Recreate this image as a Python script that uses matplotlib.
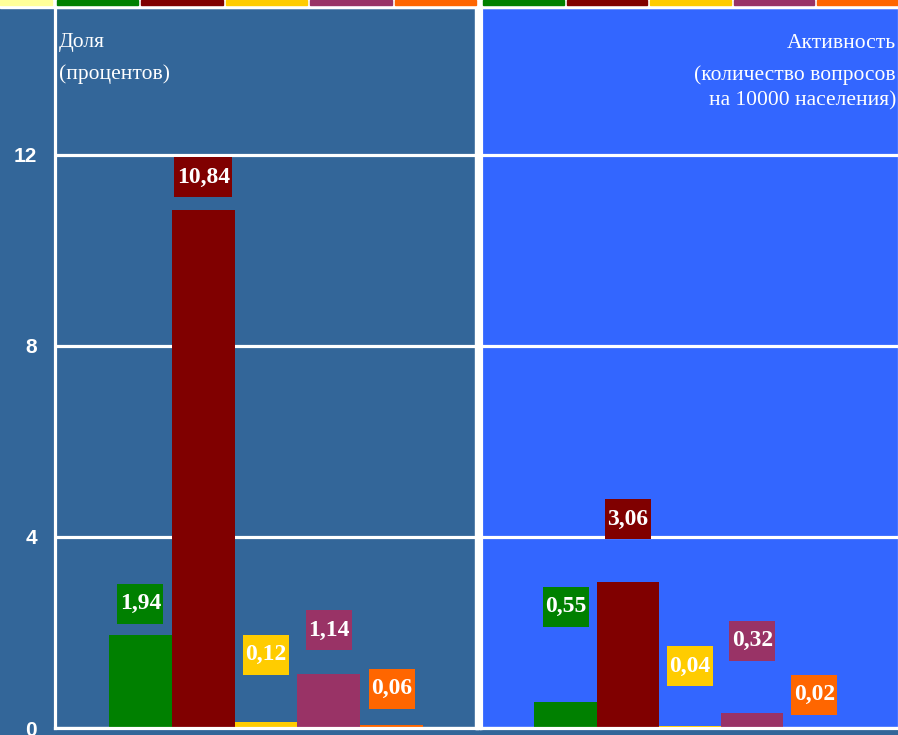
import matplotlib
matplotlib.use("Agg")
import matplotlib.pyplot as plt
from matplotlib.patches import Rectangle

# Data
share = [1.94, 10.84, 0.12, 1.14, 0.06]        # доля, %
activity = [0.55, 3.06, 0.04, 0.32, 0.02]      # вопросов на 10000 населения
bar_colors = ["#008000", "#800000", "#FFCC00", "#993366", "#FF6600"]
yticks = [0, 4, 8, 12]

# Label box heights (in data units)
share_label_y = [2.60, 11.53, 1.53, 2.05, 0.82]
activity_label_y = [2.54, 4.37, 1.29, 1.83, 0.70]

W, H = 898, 735
bg_left = "#336699"
bg_right = "#3366FF"
serif = "Liberation Serif"


def fx(px):
    return px / W


def fy(py):
    return 1 - py / H


fig = plt.figure(figsize=(W / 100, H / 100), dpi=100)
fig.patch.set_facecolor(bg_left)

ax1 = fig.add_axes([fx(55), fy(728), fx(477 - 55), (728 - 7) / H])
ax2 = fig.add_axes([fx(481), fy(728), fx(899 - 481), (728 - 7) / H])

XLIM = (-1.36, 5.36)
YLIM = (0, 15.09)


def draw_panel(ax, values, label_y, bg, width_px):
    ax.set_facecolor(bg)
    x = list(range(len(values)))
    ax.bar(x, values, width=1.0, color=bar_colors, edgecolor="none", zorder=2)
    # pixel -> data unit factors for the label boxes
    ux = (XLIM[1] - XLIM[0]) / width_px
    uy = (YLIM[1] - YLIM[0]) / 721
    for i, v in enumerate(values):
        s = f"{v:.2f}".replace(".", ",")
        bw = (12 * len(s) - 2) * ux
        bh = 40 * uy
        ax.add_patch(Rectangle((i - bw / 2, label_y[i] - bh / 2), bw, bh,
                               facecolor=bar_colors[i], edgecolor="none", zorder=3))
        ax.text(i, label_y[i], s, ha="center", va="center", color="white",
                fontsize=17, fontweight="bold", family=serif, zorder=4)
    ax.set_xlim(*XLIM)
    ax.set_ylim(*YLIM)
    ax.set_yticks(yticks)
    ax.set_xticks([])
    ax.yaxis.grid(True, color="white", linewidth=2.3)
    ax.set_axisbelow(True)
    for s in ax.spines.values():
        s.set_color("white")
        s.set_linewidth(2.3)


draw_panel(ax1, share, share_label_y, bg_left, 422)
draw_panel(ax2, activity, activity_label_y, bg_right, 418)

ax1.tick_params(axis="y", length=0, pad=13, labelcolor="white", labelsize=15)
for lab in ax1.get_yticklabels():
    lab.set_fontweight("bold")
    lab.set_family("Liberation Sans")
ax2.tick_params(axis="y", left=False, labelleft=False)

# Panel captions
cap = dict(color="white", fontsize=15.5, family=serif, va="center")
ax1.text(4 / 422, 1 - 36 / 721, "Доля", transform=ax1.transAxes, ha="left", **cap)
ax1.text(4 / 422, 1 - 67 / 721, "(процентов)", transform=ax1.transAxes, ha="left", **cap)
ax2.text(1 - 3 / 418, 1 - 36 / 721, "Активность", transform=ax2.transAxes,
         ha="right", **cap)
ax2.text(1 - 3 / 418, 1 - 68 / 721, "(количество вопросов", transform=ax2.transAxes,
         ha="right", **cap)
ax2.text(1 - 3 / 418, 1 - 94 / 721, "на 10000 населения)", transform=ax2.transAxes,
         ha="right", **cap)

# white divider between the two panels
fig.add_artist(Rectangle((fx(475), fy(729)), fx(6), (729 - 5) / H,
                         transform=fig.transFigure, color="white", zorder=3))

# colour strip along the top edge
fig.add_artist(Rectangle((0, fy(8)), 1, 8 / H, transform=fig.transFigure,
                         color="white", zorder=3))
fig.add_artist(Rectangle((0, fy(4.5)), fx(52), 4.5 / H, transform=fig.transFigure,
                         color="#FFFF99", zorder=4))
for left, right in [(55, 477), (481, 899)]:
    step = (right - left) / 5
    for i, c in enumerate(bar_colors):
        x0 = left + i * step + 2
        fig.add_artist(Rectangle((fx(x0), fy(4.5)), fx(step - 3), 4.5 / H,
                                 transform=fig.transFigure, color=c, zorder=4))

fig.savefig("out.png", dpi=100, facecolor=fig.get_facecolor())
